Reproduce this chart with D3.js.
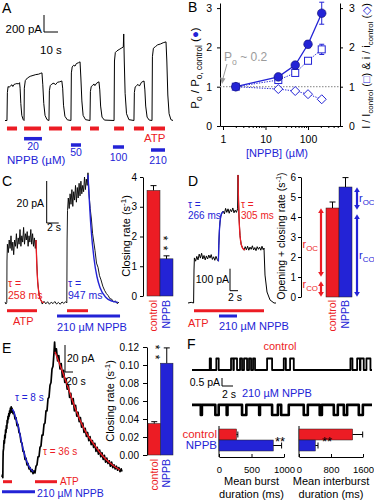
<!DOCTYPE html>
<html>
<head>
<meta charset="UTF-8" />
<style>
  body { margin: 0; background: #fff; }
  svg { display: block; font-family: "Liberation Sans", Arial, sans-serif; }
</style>
</head>
<body>
<svg width="374" height="500"></svg>
<script src="https://d3js.org/d3.v7.min.js"></script>
<script>
// ---------- data ----------
// A: macroscopic current (t in s, I in pA)
const traceA = [
  [0,0],[1.4,0],[1.7,330],[2.2,400],[3,390],[4,410],[5,420],[5.6,400],[6.5,425],[7.5,430],[8.5,435],[9.5,430],[10.4,445],[10.8,380],[11.3,200],[12,60],[13,10],[13.6,0],
  [13.8,380],[14.5,470],[16,500],[18,520],[20,530],[22,540],[24,545],[25.5,555],[26.4,560],[27,420],[27.7,200],[28.6,60],[30,10],[31.4,0],
  [31.7,350],[32.3,410],[33.5,430],[35,440],[36,420],[37.5,450],[39,455],[40.6,465],[41.2,380],[41.8,180],[42.8,50],[44.5,8],[47.1,0],
  [47.4,560],[48,630],[49,650],[50,640],[51,670],[52.5,680],[53.6,690],[54.2,500],[54.9,230],[55.8,60],[57.5,10],[60.7,0],
  [61,340],[61.6,400],[62.5,410],[63.5,430],[64.2,410],[65.5,440],[67.1,455],[67.7,360],[68.3,170],[69.3,40],[71,5],[77.9,0],
  [78.2,700],[78.8,800],[80,820],[81.5,835],[83,850],[84.5,865],[84.8,1018],[85.2,700],[85.8,320],[86.8,80],[88.5,10],[92.1,0],
  [92.4,330],[93,395],[94,410],[95,425],[96,405],[97.5,450],[99.3,465],[99.9,360],[100.5,170],[101.5,40],[103,5],[105,0],
  [105.3,750],[106,850],[107.5,870],[109,890],[111,900],[113,915],[115,925],[115.6,700],[116.3,300],[117.2,80],[118.5,10],[120,0]
];
const atpA = [[1.4,8.6],[13.6,25.7],[31.4,40.7],[47.1,54.3],[60.7,67.1],[77.9,85],[92.1,99.3],[104.3,114.3]];
const nppbA = [[13.6,26.4],[47.1,54.3],[77.1,85],[104.3,114.3]];
const nppbConcA = ["20","50","100","210"];

// B: dose response
const concB = [2, 20, 50, 100, 210];
const poRatio = [1, 1.25, 1.55, 2.08, 2.87];
const poErr = [0.03, 0.05, 0.06, 0.09, 0.28];
const IRatio = [1, 1.17, 1.35, 1.66, 1.95];
const IErr = [0, 0.03, 0.04, 0.05, 0.13];
const iRatio = [1, 0.94, 0.89, 0.81, 0.68];
const yTicksB = [0, 1, 2, 3];
const xTicksB = [1, 10, 100];

// C: deactivation
const conds = ["control", "NPPB"];
const traceC = [
  [0,0.5],[0.15,-0.5],[0.3,0.3],[0.33,20],[0.4,28],
  [0.55,24],[0.7,30],[0.85,26],[1.0,32],[1.15,25],[1.3,29],[1.45,23],[1.6,30],[1.75,27],[1.9,33],[2.05,26],[2.2,31],[2.35,28],[2.5,35],[2.65,27],[2.8,32],[2.95,29],[3.1,36],[3.25,28],[3.4,33],[3.55,30],[3.7,34],[3.85,27],[4.0,32],[4.15,29],[4.3,35],[4.45,28],[4.6,33],[4.75,27],[4.9,31],[5.05,26],[5.17,30],
  [5.3,19],[5.45,10],[5.6,6],[5.8,2],[6.0,1.5],[6.2,-0.5],[6.5,0.8],[6.8,-0.4],[7.1,0.6],[7.4,-0.6],[7.7,0.4],[8.0,-0.3],[8.3,0.7],[8.6,-0.5],[8.9,0.3],[9.2,-0.6],[9.5,0.5],[9.8,-0.2],[10.1,0.6],[10.3,0],
  [10.35,30],[10.42,44],
  [10.55,50],[10.7,45],[10.85,52],[11.0,47],[11.15,54],[11.3,46],[11.45,53],[11.6,49],[11.75,56],[11.9,48],[12.05,55],[12.2,50],[12.35,57],[12.5,51],[12.65,58],[12.8,52],[12.95,56],[13.1,53],[13.25,60],[13.4,54],[13.55,59],[13.7,56],[13.83,62],
  [14.0,52],[14.2,45],[14.4,40],[14.6,33],[14.8,29],[15.0,25],[15.25,19],[15.5,17],[15.75,13],[16.0,11],[16.3,8],[16.6,6],[16.9,4.5],[17.2,3.5],[17.5,2],[17.8,1.8],[18.1,0.5],[18.4,1],[18.7,-0.3],[19.0,0.4]
];
const fitC258 = [[5.17,30],[5.3,18.1],[5.45,10.1],[5.6,5.7],[5.8,2.6],[6.1,0.8],[6.5,0.17]];
const fitC947 = [[13.83,61],[14.33,36],[14.83,21.2],[15.33,12.5],[15.83,7.4],[16.83,2.6],[17.83,0.9],[18.83,0.3]];
const closingC = [3.55, 1.25];
const closingCErr = [0.16, 0.1];

// D: opening + closing
const traceD = [
  [0,0],[0.8,3],[1.4,0],[1.5,150],[1.6,205],
  [1.9,190],[2.2,212],[2.5,196],[2.8,222],[3.1,204],[3.4,226],[3.7,200],[4.0,216],[4.3,196],[4.6,214],[4.9,200],[5.2,218],[5.5,204],[5.8,220],[6.1,198],[6.4,210],[6.7,194],[7.0,212],[7.3,198],[7.6,190],
  [7.7,260],[7.85,330],[8.0,368],[8.2,395],[8.5,410],[8.8,418],
  [9.1,405],[9.4,430],[9.7,412],[10.0,428],[10.3,408],[10.6,425],[10.9,415],[11.2,432],[11.5,410],[11.8,422],[12.1,412],[12.4,428],
  [12.5,582],[12.6,487],[12.75,391],[13.0,307],[13.3,266],[13.7,248],
  [14.0,240],[14.3,256],[14.6,242],[14.9,258],[15.2,240],[15.5,254],[15.8,244],[16.1,260],[16.4,241],[16.7,252],[17.0,238],[17.3,256],[17.6,244],[17.9,254],[18.2,240],[18.5,258],[18.8,242],[19.0,250],
  [19.1,200],[19.25,127],[19.75,50],[20.5,14],[21.5,0],[22,0]
];
const fitD266 = [[7.6,190],[7.7,261],[7.85,329],[8.0,367],[8.2,394],[8.5,410],[8.9,416]];
const fitD305 = [[12.5,582],[12.6,487],[12.75,391],[13.0,307],[13.3,266],[13.7,248],[14.3,242]];
const sumRateD = [4.45, 5.5];
const sumRateDErr = [0.3, 0.47];
const rCO = [0.9, 4.25];
const rOC = [3.55, 1.25];

// E: slow deactivation after ATP removal
const traceE = [
  [0,0],[1,1.5],[2,-0.5],[2.5,12],[3,19],[4,21],[5,27],[6,25],[7,31],[8,29],[9,35],[10,33],[11,38],[12,36],[13,42],[14,40],[15,45],[16,43],[17,47],[18,45],[19,49],[20,47],[21,51],[22,49],[23,52],[24,48],[25,51],
  [27.5,47],[30,48],[32.5,43],[35,44],[37.5,38],[40,39],[42.5,33],[45,32],[47.5,26],[50,25],[52.5,19],[55,19],[57.5,13],[60,14],[62.5,9],[65,10],[67.5,6],[70,7],[72.5,4],[75,5.5],[77.5,2.5],[80,4.5],[82.5,3],
  [85,8],[87.5,9],[90,15],[92.5,15],[95,22],[97.5,23],[100,31],[102.5,31],[105,39],[107.5,40],[110,49],[112.5,49],[115,58],[117.5,59],[120,68],[122.5,70],[125,80],[127.5,82],[130,92],[131.5,100],[133,92],
  [136,95],[139,86],[142,90],[145,80],[148,84],[151,74],[154,79],[157,70],[160,73],[163,65],[166,68],[169,59],[172,62],[175,54],[178,58],[181,49],[184,53],[187,45],[190,48],[193,41],[196,44],[199,37],[202,40],[205,33],[208,36],[211,30],[214,33],[217,27],[220,30],[223,24],[226,27],[229,22],[232,25],[235,19],[238,22],[241,17],[244,20],[247,15],[250,18],[253,13],[256,16],[259,11],[262,14],[265,10],[268,12],[271,8],[274,11],[277,7],[280,9],[283,6],[286,8],[289,5],[292,7],[295,4],[298,6],[300,4]
];
const fitE8 = [[25,50],[27.5,49.6],[32,46],[36,42],[40.8,37.3],[47,28.5],[53.3,20],[59.5,13.5],[65.8,8.9],[72,5.8],[78.3,3.9]];
const fitE36 = [[132.5,92.8],[145,83],[161.7,69.4],[178,55],[195,42.2],[211,32.5],[228,24.9],[245,18],[261.7,12.6],[278,8.5],[295,5.2]];
const atpE = [[2.5,25],[82.5,137.5]];
const nppbE = [0, 82.5];
const closingE = [0.035, 0.102];
const closingEErr = [0.002, 0.017];

// F: single channels (t in s)
const openControl = [[3.22,3.45],[4.42,4.85],[7.09,7.5],[7.6,8.18],[8.73,9.09],[9.45,10.0],[10.36,10.73],[11.09,11.45],[13.64,14.55],[16.67,17.05],[17.82,18.49],[28.78,29.15],[30.0,30.5],[30.6,31.2],[31.69,32.42]];
const closedNPPB = [[1.6,1.8],[4.24,4.85],[6.3,6.45],[9.09,9.87],[12.2,12.35],[14.55,15.6],[16.2,17.58],[20.3,21.04],[23.2,23.6],[25.76,26.49],[27.58,28.18],[30.3,31.04]];
const ampF = [0.72, 0.63];
const recordLenF = 32.7;
const burstDur = [270, 835];
const burstDurErr = [20, 128];
const interburstDur = [1342, 408];
const interburstDurErr = [250, 67];

// ---------- helpers ----------
const RED = "#ec1c24", BLUE = "#2323d6", GRAY = "#9b9b9b";
const svg = d3.select("svg");

function rich(g, x, y, parts, o) {
  const t = g.append("text").attr("x", x).attr("y", y)
    .attr("font-size", o.size).attr("text-anchor", o.anchor || "start")
    .attr("fill", o.color || "#000");
  if (o.rotate) t.attr("transform", `rotate(-90 ${x} ${y})`);
  let shift = 0;
  parts.forEach(p => {
    const s = typeof p === "string" ? p : p[0];
    const st = typeof p === "string" ? {} : p[1];
    const ts = t.append("tspan").text(s);
    const target = st.sub ? o.size * 0.3 : st.sup ? -o.size * 0.4 : 0;
    if (target !== shift) { ts.attr("dy", target - shift); shift = target; }
    if (st.sub || st.sup) ts.attr("font-size", o.size * 0.72);
    if (st.color) ts.attr("fill", st.color);
  });
  return t;
}
function txt(g, x, y, s, o = {}) {
  return rich(g, x, y, [s], Object.assign({ size: 11 }, o));
}
// two asterisks stacked vertically (cx, cy = centre of upper star)
function stars(g, cx, cy, gap) {
  const fs = 12;
  g.append("text").attr("font-size", fs)
    .attr("letter-spacing", gap - 0.389 * fs)
    .attr("transform", `translate(${cx - 0.57 * fs},${cy - 0.195 * fs}) rotate(90)`)
    .text("**");
}
function trace(g, pts, xs, ys, color, w, curve) {
  const ln = d3.line().x(d => xs(d[0])).y(d => ys(d[1]));
  if (curve) ln.curve(curve);
  g.append("path").attr("d", ln(pts)).attr("fill", "none")
    .attr("stroke", color).attr("stroke-width", w).attr("stroke-linejoin", "round");
}
function hbar(g, x1, x2, y, color, w) {
  g.append("line").attr("x1", x1).attr("x2", x2).attr("y1", y).attr("y2", y)
    .attr("stroke", color).attr("stroke-width", w);
}
function scaleBar(g, x, y, w, h) {
  g.append("path").attr("d", `M${x},${y - h}V${y}H${x + w}`)
    .attr("fill", "none").attr("stroke", "#000").attr("stroke-width", 1);
}
function styleAxis(a, fs) {
  a.selectAll("text").attr("font-size", fs).attr("font-family", "Liberation Sans, Arial, sans-serif").attr("fill", "#000");
  a.selectAll("path,line").attr("stroke", "#000");
}
function catLabels(g, xb, y) {
  conds.forEach((c, i) => {
    g.append("text")
      .attr("transform", `translate(${xb(c) + xb.bandwidth() / 2},${y}) rotate(-90)`)
      .attr("text-anchor", "end").attr("dy", "0.35em").attr("font-size", 10.5)
      .attr("fill", i ? BLUE : RED).text(c);
  });
}
function vBars(g, xb, yb, vals, errs) {
  conds.forEach((c, i) => {
    g.append("rect").attr("x", xb(c)).attr("width", xb.bandwidth())
      .attr("y", yb(vals[i])).attr("height", yb(0) - yb(vals[i]))
      .attr("fill", i ? BLUE : RED).attr("stroke", "#222").attr("stroke-width", 0.5);
    const cx = xb(c) + xb.bandwidth() / 2;
    g.append("path").attr("d", `M${cx},${yb(vals[i])}V${yb(vals[i] + errs[i])}M${cx - 3},${yb(vals[i] + errs[i])}H${cx + 3}`)
      .attr("stroke", "#000").attr("fill", "none");
  });
}
function panelLetter(x, y, s) { txt(svg, x, y, s, { size: 14 }); }

// ---------- panel A ----------
const gA = svg.append("g");
const xA = d3.scaleLinear().domain([0, 120]).range([5, 173]);
const yA = d3.scaleLinear().domain([0, 1000]).range([120.5, 35.5]);
panelLetter(2, 13, "A");
trace(gA, traceA, xA, yA, "#000", 1);
scaleBar(gA, 44, 32, xA(10) - xA(0), yA(0) - yA(200));
txt(gA, 42, 33, "200 pA", { anchor: "end", size: 11.5 });
txt(gA, 40, 54, "10 s", { size: 11.5 });
atpA.forEach(d => hbar(gA, xA(d[0]), xA(d[1]), 128.5, RED, 4));
txt(gA, 144, 142, "ATP", { color: RED, size: 11.5 });
const nppbYA = [138.7, 145, 147, 150], nppbLabYA = [149.5, 155.5, 160.5, 163.5];
nppbA.forEach((d, i) => {
  hbar(gA, xA(d[0]), xA(d[1]), nppbYA[i], BLUE, 3.5);
  txt(gA, (xA(d[0]) + xA(d[1])) / 2, nppbLabYA[i], nppbConcA[i], { anchor: "middle", color: BLUE, size: 10.5 });
});
txt(gA, 7, 164, "NPPB (\u00B5M)", { color: BLUE, size: 11.5 });

// ---------- panel B ----------
const gB = svg.append("g");
const xB = d3.scaleLog().domain([0.85, 565]).range([220, 340]);
const yB = d3.scaleLinear().domain([0, 3.13]).range([126, 3]);
panelLetter(188, 12, "B");
const axL = gB.append("g").attr("transform", "translate(220,0)")
  .call(d3.axisLeft(yB).tickValues(yTicksB).tickFormat(d3.format("d")).tickSize(3).tickSizeOuter(0).tickPadding(5));
const axR = gB.append("g").attr("transform", "translate(340,0)")
  .call(d3.axisRight(yB).tickValues(yTicksB).tickFormat(d3.format("d")).tickSize(3).tickSizeOuter(0).tickPadding(6));
const axB = gB.append("g").attr("transform", "translate(0,126)")
  .call(d3.axisBottom(xB).tickValues(xTicksB).tickFormat(d3.format("d")).tickSize(4).tickSizeOuter(0).tickPadding(6));
const minorB = [];
[1, 10, 100].forEach(dec => { for (let k = 2; k <= 9; k++) if (dec * k < 565) minorB.push(dec * k); });
const axBm = gB.append("g").attr("transform", "translate(0,126)")
  .call(d3.axisBottom(xB).tickValues(minorB).tickFormat("").tickSize(2).tickSizeOuter(0));
[axL, axR, axB, axBm].forEach(a => styleAxis(a, 10.5));
axBm.select(".domain").remove();
gB.append("line").attr("x1", 220).attr("x2", 340).attr("y1", yB(1)).attr("y2", yB(1))
  .attr("stroke", GRAY).attr("stroke-width", 1.2).attr("stroke-dasharray", "1.5,1.5");
const lineB = vals => d3.line().x((d, i) => xB(concB[i])).y(d => yB(d))(vals);
gB.append("path").attr("d", lineB(IRatio)).attr("fill", "none").attr("stroke", BLUE).attr("stroke-dasharray", "1.3,1.3");
gB.append("path").attr("d", lineB(iRatio)).attr("fill", "none").attr("stroke", BLUE).attr("stroke-dasharray", "1.3,1.3");
function errB(vals, errs, color) {
  vals.forEach((v, i) => {
    if (!errs[i]) return;
    const x = xB(concB[i]);
    gB.append("path").attr("d", `M${x},${yB(v - errs[i])}V${yB(v + errs[i])}M${x - 2.5},${yB(v - errs[i])}H${x + 2.5}M${x - 2.5},${yB(v + errs[i])}H${x + 2.5}`)
      .attr("stroke", color).attr("fill", "none");
  });
}
errB(IRatio, IErr, BLUE);
IRatio.forEach((v, i) => gB.append("rect").attr("x", xB(concB[i]) - 3.5).attr("y", yB(v) - 3.5)
  .attr("width", 7).attr("height", 7).attr("fill", "#fff").attr("stroke", BLUE));
iRatio.forEach((v, i) => gB.append("path")
  .attr("d", `M${xB(concB[i])},${yB(v) - 4.5}l4.5,4.5l-4.5,4.5l-4.5,-4.5z`)
  .attr("fill", "#fff").attr("stroke", BLUE));
gB.append("path").attr("d", lineB(poRatio)).attr("fill", "none").attr("stroke", BLUE).attr("stroke-width", 1.3);
errB(poRatio, poErr, BLUE);
poRatio.forEach((v, i) => gB.append("circle").attr("cx", xB(concB[i])).attr("cy", yB(v)).attr("r", 4.3)
  .attr("fill", BLUE).attr("stroke", "#10106a").attr("stroke-width", 0.6));
rich(gB, 224, 61, ["P", ["o", { sub: true }], " ~ 0.2"], { size: 12, color: GRAY });
gB.append("path").attr("d", "M227,64L222.5,80").attr("stroke", GRAY).attr("stroke-width", 1);
gB.append("path").attr("d", "M220,77.5L222,84L225.5,78.5z").attr("fill", GRAY);
txt(gB, 277, 157, "[NPPB] (\u00B5M)", { anchor: "middle", color: BLUE, size: 11 });
rich(gB, 199, 68, ["P", ["o", { sub: true }], " / P", ["o, control", { sub: true }], " (", ["\u25CF", { color: BLUE }], ")"],
  { size: 11.5, anchor: "middle", rotate: true });
rich(gB, 370, 66, ["I / I", ["control", { sub: true }], " (", ["\u25A1", { color: BLUE }], ") & i / i", ["control", { sub: true }], " (", ["\u25C7", { color: BLUE }], ")"],
  { size: 11, anchor: "middle", rotate: true });

// ---------- panel C ----------
const gC = svg.append("g");
const xC = d3.scaleLinear().domain([0, 20]).range([5, 125]);
const yC = d3.scaleLinear().domain([0, 60]).range([303, 177]);
panelLetter(2, 186, "C");
trace(gC, traceC, xC, yC, "#000", 0.9);
trace(gC, fitC258, xC, yC, RED, 1.3, d3.curveMonotoneX);
trace(gC, fitC947, xC, yC, BLUE, 1.4, d3.curveMonotoneX);
scaleBar(gC, 46.7, 223, xC(2) - xC(0), yC(0) - yC(20));
txt(gC, 44, 207, "20 pA", { anchor: "end", size: 10.5 });
txt(gC, 47, 231, "2 s", { size: 10.5 });
txt(gC, 8, 287, "\u03C4 =", { color: RED, size: 10.5 });
txt(gC, 8, 299, "258 ms", { color: RED, size: 10.5 });
txt(gC, 68, 287, "\u03C4 =", { color: BLUE, size: 10.5 });
txt(gC, 68, 299, "947 ms", { color: BLUE, size: 10.5 });
hbar(gC, xC(0.33), xC(5.33), 310.7, RED, 3);
hbar(gC, xC(10.33), xC(13.83), 310.7, RED, 3);
hbar(gC, xC(8.67), xC(19.17), 316, BLUE, 3);
txt(gC, 13, 325, "ATP", { color: RED, size: 11 });
txt(gC, 57, 331, "210 \u00B5M NPPB", { color: BLUE, size: 11 });
const xCb = d3.scaleBand().domain(conds).range([147, 173]);
const yCb = d3.scaleLinear().domain([0, 4]).range([296, 177]);
const axC = gC.append("g").attr("transform", "translate(143,0)")
  .call(d3.axisLeft(yCb).ticks(4).tickSize(3).tickSizeOuter(0).tickPadding(3));
styleAxis(axC, 10);
vBars(gC, xCb, yCb, closingC, closingCErr);
stars(gC, 166, 238, 10);
catLabels(gC, xCb, 300);
rich(gC, 130, 236, ["Closing rate (s", ["-1", { sup: true }], ")"], { size: 11, anchor: "middle", rotate: true });

// ---------- panel D ----------
const gD = svg.append("g");
const xD = d3.scaleLinear().domain([0, 22]).range([188, 276]);
const yD = d3.scaleLinear().domain([0, 600]).range([303, 171]);
panelLetter(188, 186, "D");
trace(gD, traceD, xD, yD, "#000", 1);
trace(gD, fitD266, xD, yD, BLUE, 1.3, d3.curveMonotoneX);
trace(gD, fitD305, xD, yD, RED, 1.3, d3.curveMonotoneX);
scaleBar(gD, 230, 290.7, xD(2) - xD(0), yD(0) - yD(100));
txt(gD, 229, 283, "100 pA", { anchor: "end", size: 10.5 });
txt(gD, 228, 301, "2 s", { size: 10.5 });
txt(gD, 188, 208, "\u03C4 =", { color: BLUE, size: 10 });
txt(gD, 188, 219, "266 ms", { color: BLUE, size: 10 });
txt(gD, 241, 208, "\u03C4 =", { color: RED, size: 10 });
txt(gD, 241, 219, "305 ms", { color: RED, size: 10 });
hbar(gD, xD(1.5), xD(19), 310.7, RED, 3);
hbar(gD, xD(7.75), xD(12.25), 316, BLUE, 3);
txt(gD, 188, 327, "ATP", { color: RED, size: 11 });
txt(gD, 219, 330, "210 \u00B5M NPPB", { color: BLUE, size: 11 });
const xDb = d3.scaleBand().domain(conds).range([326, 352]);
const yDb = d3.scaleLinear().domain([0, 6]).range([297, 177]);
const axD = gD.append("g").attr("transform", "translate(301,0)")
  .call(d3.axisLeft(yDb).ticks(6).tickSize(3).tickSizeOuter(0).tickPadding(2));
styleAxis(axD, 10);
vBars(gD, xDb, yDb, sumRateD, sumRateDErr);
catLabels(gD, xDb, 300);
rich(gD, 285, 236, ["Opening + closing rate (s", ["-1", { sup: true }], ")"], { size: 10.5, anchor: "middle", rotate: true });
const defs = svg.append("defs");
[["ahR", RED], ["ahB", BLUE]].forEach(([id, c]) => {
  defs.append("marker").attr("id", id).attr("viewBox", "0 0 10 12").attr("refX", 0.5).attr("refY", 6)
    .attr("markerWidth", 5).attr("markerHeight", 6).attr("markerUnits", "userSpaceOnUse")
    .attr("orient", "auto-start-reverse")
    .append("path").attr("d", "M0,0L10,6L0,12z").attr("fill", c);
});
function arrowD(x, v1, v2, c, id) {
  const y1 = yDb(v1), y2 = yDb(v2);
  gD.append("line").attr("x1", x).attr("x2", x).attr("y1", y1 + 5).attr("y2", y2 - 5)
    .attr("stroke", c).attr("stroke-width", 2.2)
    .attr("marker-start", `url(#${id})`).attr("marker-end", `url(#${id})`);
}
arrowD(321, rCO[0] + rOC[0], rCO[0] + 0.1, RED, "ahR");
arrowD(321, rCO[0] - 0.1, 0, RED, "ahR");
arrowD(357, rCO[1] + rOC[1], rCO[1] + 0.1, BLUE, "ahB");
arrowD(357, rCO[1] - 0.1, 0, BLUE, "ahB");
rich(gD, 318, 248, ["r", ["OC", { sub: true }]], { size: 11, anchor: "end", color: RED });
rich(gD, 318, 288, ["r", ["CO", { sub: true }]], { size: 11, anchor: "end", color: RED });
rich(gD, 359, 202, ["r", ["OC", { sub: true }]], { size: 11, color: BLUE });
rich(gD, 359, 259, ["r", ["CO", { sub: true }]], { size: 11, color: BLUE });

// ---------- panel E ----------
const gE = svg.append("g");
const xE = d3.scaleLinear().domain([0, 300]).range([2, 122]);
const yE = d3.scaleLinear().domain([0, 100]).range([477, 342]);
panelLetter(2, 353, "E");
trace(gE, traceE, xE, yE, "#000", 1.7);
trace(gE, fitE8, xE, yE, BLUE, 1.4, d3.curveMonotoneX);
trace(gE, fitE36, xE, yE, RED, 1.4, d3.curveMonotoneX);
scaleBar(gE, 65, 372, xE(20) - xE(0), yE(0) - yE(20));
txt(gE, 67, 362, "20 pA", { size: 10.5 });
txt(gE, 66, 385, "20 s", { size: 10.5 });
txt(gE, 15, 401, "\u03C4 = 8 s", { color: BLUE, size: 10 });
txt(gE, 43, 455, "\u03C4 = 36 s", { color: RED, size: 10 });
atpE.forEach(d => hbar(gE, xE(d[0]), xE(d[1]), 481.7, RED, 3));
hbar(gE, xE(nppbE[0]), xE(nppbE[1]), 491.7, BLUE, 3);
txt(gE, 60, 485, "ATP", { color: RED, size: 10 });
txt(gE, 37, 497, "210 \u00B5M NPPB", { color: BLUE, size: 10.5 });
const xEb = d3.scaleBand().domain(conds).range([148, 173]);
const yEb = d3.scaleLinear().domain([0, 0.12]).range([455, 347]);
const axE = gE.append("g").attr("transform", "translate(147,0)")
  .call(d3.axisLeft(yEb).tickValues(d3.range(0, 0.121, 0.02)).tickFormat(d3.format(".2f")).tickSize(4).tickSizeOuter(0).tickPadding(4));
styleAxis(axE, 10);
vBars(gE, xEb, yEb, closingE, closingEErr);
stars(gE, 158, 347, 10);
catLabels(gE, xEb, 459);
rich(gE, 114, 401, ["Closing rate (s", ["-1", { sup: true }], ")"], { size: 11, anchor: "middle", rotate: true });

// ---------- panel F ----------
const gF = svg.append("g");
const xF = d3.scaleLinear().domain([0, recordLenF]).range([192, 372]);
const yFc = d3.scaleLinear().domain([0, 1]).range([370, 354]);
const yFn = d3.scaleLinear().domain([0, 1]).range([415, 399]);
panelLetter(187, 349, "F");
function steps(intervals, hi, lo, startHigh) {
  const a = startHigh ? hi : lo, b = startHigh ? lo : hi;
  const pts = [[0, a]];
  intervals.forEach(([s, e]) => { pts.push([s, a], [s, b], [e, b], [e, a]); });
  pts.push([recordLenF, a]);
  return pts;
}
trace(gF, steps(openControl, ampF[0], 0, false), xF, yFc, "#000", 1.8);
trace(gF, steps(closedNPPB, ampF[1], 0, true), xF, yFn, "#000", 2.6);
txt(gF, 280, 350, "control", { anchor: "middle", color: RED, size: 11 });
txt(gF, 242, 397, "210 \u00B5M NPPB", { color: BLUE, size: 11 });
scaleBar(gF, 222, 386, xF(2) - xF(0), yFc(0) - yFc(0.5));
txt(gF, 220, 386, "0.5 pA", { anchor: "end", size: 10.5 });
txt(gF, 222, 398, "2 s", { size: 10.5 });
const yFb = d3.scaleBand().domain(conds).range([429, 451]);
function hBars(x0, xs, vals, errs, ticks, title, starX) {
  const g = gF.append("g");
  const ax = g.append("g").attr("transform", "translate(0,457)")
    .call(d3.axisBottom(xs).tickValues(ticks).tickFormat(d3.format("d")).tickSizeInner(-3).tickSizeOuter(0).tickPadding(9));
  styleAxis(ax, 9.5);
  g.append("line").attr("x1", x0).attr("x2", x0).attr("y1", 426).attr("y2", 457).attr("stroke", "#000");
  conds.forEach((c, i) => {
    g.append("rect").attr("x", xs(0)).attr("y", yFb(c)).attr("height", yFb.bandwidth())
      .attr("width", xs(vals[i]) - xs(0)).attr("fill", i ? BLUE : RED).attr("stroke", "#222").attr("stroke-width", 0.5);
    const cy = yFb(c) + yFb.bandwidth() / 2;
    g.append("path").attr("d", `M${xs(vals[i])},${cy}H${xs(vals[i] + errs[i])}M${xs(vals[i] + errs[i])},${cy - 3}V${cy + 3}`)
      .attr("stroke", "#000").attr("fill", "none");
  });
  txt(g, starX, 446, "**", { anchor: "middle", size: 13 });
  const mid = (xs.range()[0] + xs.range()[1]) / 2;
  txt(g, mid, 485, title, { anchor: "middle", size: 11 });
  txt(g, mid, 498, "duration (ms)", { anchor: "middle", size: 11 });
}
hBars(219, d3.scaleLinear().domain([0, 1000]).range([219, 284]), burstDur, burstDurErr, [0, 500, 1000], "Mean burst", 280);
hBars(299, d3.scaleLinear().domain([0, 1600]).range([299, 363]), interburstDur, interburstDurErr, [0, 800, 1600], "Mean interburst", 327);
txt(gF, 217, 438, "control", { anchor: "end", color: RED, size: 11.5 });
txt(gF, 217, 449, "NPPB", { anchor: "end", color: BLUE, size: 11.5 });
</script>
</body>
</html>
